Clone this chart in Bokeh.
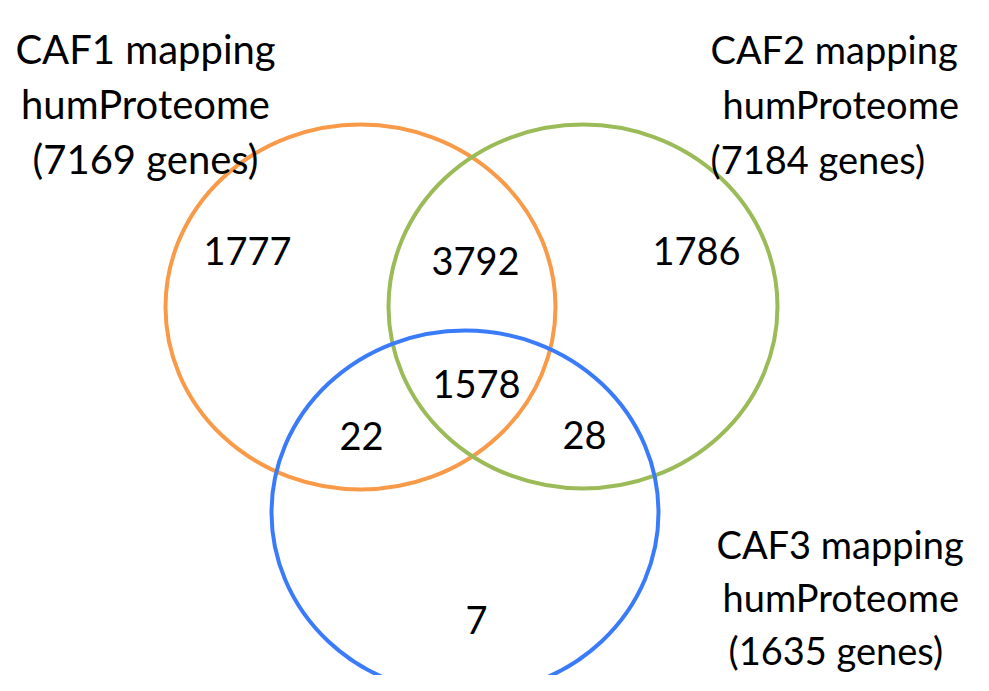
from bokeh.plotting import figure
from bokeh.models import Range1d, ColumnDataSource
from bokeh.core.properties import value
from bokeh.embed import file_html
from bokeh.resources import INLINE

# ---- data ----
set_names = ["CAF1", "CAF2", "CAF3"]
set_totals = [7169, 7184, 1635]
region_labels = ["1777", "3792", "1786", "1578", "22", "28", "7"]  # 1 only, 1&2, 2 only, all, 1&3, 2&3, 3 only

# ---- layout (pixel coordinates of the page) ----
W, H = 973, 675
circle_x = [360, 582.5, 464.5]
circle_y = [306.5, 306, 512]
circle_w = [390, 389, 387]
circle_h = [365, 364, 364]
circle_colors = ["#F99A48", "#9BBB59", "#3A7BFA"]

region_x = [247, 475, 696, 476, 361, 584, 476]
region_y = [250, 260, 250, 383, 435, 434, 619]

# title blocks: anchor x, align, first baseline, font size, line gap
title_x = [145, 710, 716]
title_align = ["center", "left", "left"]
title_y0 = [48, 48, 543]
title_gap = [55, 55, 53]
title_size = ["40px", "38px", "38px"]
title_indent = [[0, 0, 0], [0, 12, 0], [0, 6, 12]]

p = figure(width=W, height=H, output_backend="svg", toolbar_location=None,
           x_range=Range1d(0, W), y_range=Range1d(H, 0),
           min_border=0)
p.axis.visible = False
p.grid.visible = False
p.outline_line_color = None
p.background_fill_color = "white"
p.border_fill_color = "white"

src = ColumnDataSource(dict(x=circle_x, y=circle_y, w=circle_w, h=circle_h, c=circle_colors))
p.ellipse(x="x", y="y", width="w", height="h", source=src,
          fill_color=None, line_color="c", line_width=4)

rsrc = ColumnDataSource(dict(x=region_x, y=region_y, t=region_labels))
p.text(x="x", y="y", text="t", source=rsrc, text_font=value("Lato"),
       text_font_size="38px", text_align="center", text_baseline="middle",
       text_color="black")

for i, name in enumerate(set_names):
    lines = [f"{name} mapping", "humProteome", f"({set_totals[i]} genes)"]
    xs = [title_x[i] + title_indent[i][k] for k in range(3)]
    ys = [title_y0[i] + k * title_gap[i] for k in range(3)]
    p.text(x=xs, y=ys, text=lines, text_font=value("Lato"),
           text_font_size=title_size[i], text_align=title_align[i],
           text_baseline="alphabetic", text_color="black")

open("out.html", "w").write(file_html(p, INLINE))
